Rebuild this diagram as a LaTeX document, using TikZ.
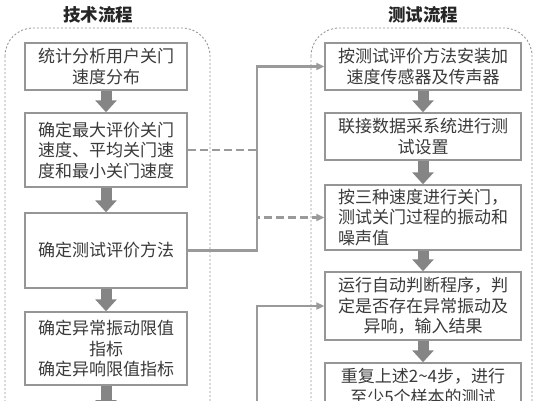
\documentclass[tikz,border=0pt]{standalone}
\usepackage{fontspec}
\setmainfont{Noto Sans CJK SC}
\usepackage{xcolor}
\usetikzlibrary{positioning, arrows.meta, calc}

\definecolor{boxgray}{HTML}{969696}
\definecolor{linegray}{HTML}{9A9A9A}
\definecolor{blockgray}{HTML}{858585}
\definecolor{textgray}{HTML}{3A3A3A}

\begin{document}
\begin{tikzpicture}[
    x=1pt, y=-1pt,
    font=\fontsize{17}{20.5}\selectfont,
    step_box/.style={draw=boxgray, line width=1.4pt, fill=white, text=textgray, align=center, inner sep=0pt},
    left_box/.style={step_box, minimum width=162pt},
    right_box/.style={step_box, minimum width=196pt},
    group_frame/.style={draw=boxgray, line width=0.9pt, dash pattern=on 2pt off 2pt, rounded corners=28pt},
    group_title/.style={font=\fontsize{17.5}{20}\selectfont\bfseries, text=black!85},
    block_arrow/.style={draw=blockgray, line width=11pt, -{Triangle[length=12pt, width=21pt]}, shorten <=0.7pt},
    flow_arrow/.style={draw=linegray, line width=2.2pt, -{Triangle[length=8pt, width=7pt]}}
]
\useasboundingbox (0,0) rectangle (538,400);
\clip (0,0) rectangle (538,400);

% frames and titles
\draw[group_frame] (5,28) rectangle (210,500);
\draw[group_frame] (311,28) rectangle (532,500);
\node[group_title] (tech_title) at (98,15) {技术流程};
\node[group_title] (test_title) at (423,15) {测试流程};

% technical flow
\node[left_box, minimum height=47pt] (tech1) at (106,66.5) {统计分析用户关门\\速度分布};
\node[left_box, minimum height=74pt] (tech2) at (106,150) {确定最大评价关门\\速度、平均关门速\\度和最小关门速度};
\node[left_box, minimum height=75pt] (tech3) at (106,250.5) {确定测试评价方法};
\node[left_box, minimum height=73pt] (tech4) at (106,348.5) {确定异常振动限值\\指标\\确定异响限值指标};
\coordinate (tech_next) at (106,412);

% test flow
\node[right_box, minimum height=47pt] (test1) at (423,66.5) {按测试评价方法安装加\\速度传感器及传声器};
\node[right_box, minimum height=47pt] (test2) at (423,136.5) {联接数据采系统进行测\\试设置};
\node[right_box, minimum height=65pt, align=left] (test3) at (423,217.5) {按三种速度进行关门，\\测试关门过程的振动和\\噪声值};
\node[right_box, minimum height=68pt] (test4) at (423,306) {运行自动判断程序，判\\定是否存在异常振动及\\异响，输入结果};
\node[right_box, minimum height=47pt] (test5) at (423,386.5) {重复上述2\textasciitilde4步，进行\\至少5个样本的测试};

% block arrows
\draw[block_arrow] (tech1.south) -- (tech2.north);
\draw[block_arrow] (tech2.south) -- (tech3.north);
\draw[block_arrow] (tech3.south) -- (tech4.north);
\draw[block_arrow] (tech4.south) -- (tech_next);
\draw[block_arrow] (test1.south) -- (test2.north);
\draw[block_arrow] (test2.south) -- (test3.north);
\draw[block_arrow] (test3.south) -- (test4.north);
\draw[block_arrow] (test4.south) -- (test5.north);

% links between the two flows
\coordinate (bus) at (257,0);
\coordinate (bus_low) at (257,420);
\draw[flow_arrow] (tech3.east) -- (tech3.east -| bus) |- (test1.west);
\draw[flow_arrow, dash pattern=on 8pt off 4pt] (tech2.east) -- (tech2.east -| bus) |- (test3.west);
\draw[flow_arrow] (bus_low) |- (test4.west);
\end{tikzpicture}
\end{document}
